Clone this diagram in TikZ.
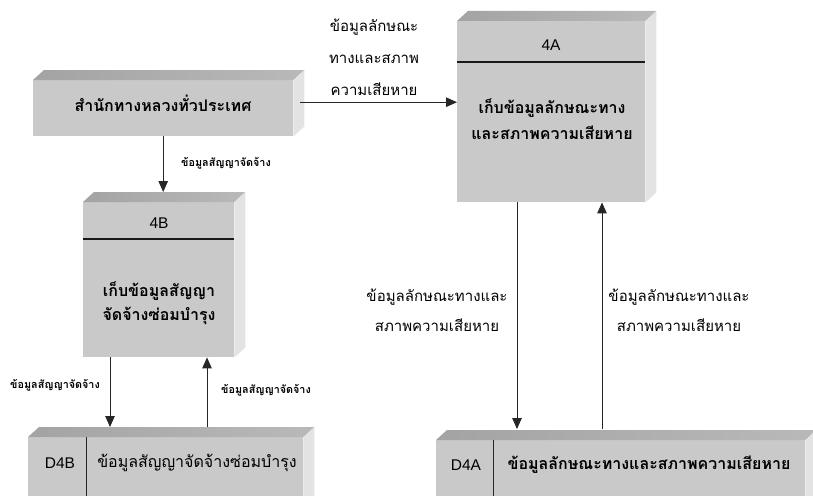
\documentclass[tikz,border=0pt]{standalone}
\usepackage{fontspec}
\setmainfont{Liberation Sans}
\newfontfamily\thai[Script=Thai]{Loma}
\usetikzlibrary{arrows.meta,calc}
\newcommand\prismfaces[1]{%
  \shade[left color=gray!72,right color=gray!55] (#1.north west) -- ++(11,-10) -- ($(#1.north east)+(11,-10)$) -- (#1.north east) -- cycle;
  \fill[gray!22] (#1.north east) -- ++(11,-10) -- ($(#1.south east)+(11,-10)$) -- (#1.south east) -- cycle;
}
\begin{document}
\begin{tikzpicture}[x=1pt,y=-1pt,
  front/.style={fill=gray!42,draw=none,inner sep=0pt,anchor=north west},
  btxt/.style={font=\thai\bfseries\fontsize{16}{26}\selectfont,align=center,inner sep=0pt},
  ltxt/.style={font=\thai\fontsize{15}{32}\selectfont,align=center,inner sep=0pt},
  stxt/.style={font=\thai\bfseries\fontsize{10.8}{12}\selectfont,inner sep=0pt},
  idtxt/.style={font=\fontsize{15.5}{18}\selectfont,inner sep=0pt},
  arr/.style={draw=black!85,line width=0.9pt,-{Triangle[length=11pt,width=9.5pt]}},
  divl/.style={draw=black!90,line width=1.3pt}]
\useasboundingbox (0,0) rectangle (813,495);
\fill[white] (0,0) rectangle (813,495);

% process / entity boxes (front faces)
\node[front,minimum width=260pt,minimum height=56pt] (box1) at (33,80) {};
\node[front,minimum width=188pt,minimum height=181pt] (b4A) at (457,21) {};
\node[front,minimum width=151pt,minimum height=155pt] (b4B) at (83,202) {};
\node[front,minimum width=275pt,minimum height=70pt] (d4B) at (28,437) {};
\node[front,minimum width=369pt,minimum height=70pt] (d4A) at (436,440) {};
\prismfaces{box1}
\prismfaces{b4A}
\prismfaces{b4B}
\prismfaces{d4B}
\prismfaces{d4A}

% dividers
\draw[divl] (b4A.west |- 0,62) -- (b4A.east |- 0,62);
\draw[divl] (b4B.west |- 0,239) -- (b4B.east |- 0,239);
\draw[draw=black!85,line width=0.9pt] ([xshift=58pt]d4B.north west) -- ([xshift=58pt]d4B.south west);
\draw[draw=black!85,line width=0.9pt] ([xshift=57pt]d4A.north west) -- ([xshift=57pt]d4A.south west);

% texts in boxes
\node[btxt,font=\thai\bfseries\fontsize{16}{20}\selectfont] (t1) at (163,103) {สำนักทางหลวงทั่วประเทศ};
\node[idtxt] (id4A) at (551,45) {4A};
\node[btxt] (t4A) at (552,119) {เก็บข้อมูลลักษณะทาง\\และสภาพความเสียหาย};
\node[idtxt] (id4B) at (159,223) {4B};
\node[btxt,font=\thai\bfseries\fontsize{16}{24}\selectfont] (t4B) at (159,303) {เก็บข้อมูลสัญญา\\จัดจ้างซ่อมบำรุง};
\node[idtxt] (idD4B) at (60,463) {D4B};
\node[ltxt,font=\thai\fontsize{16}{20}\selectfont] (tD4B) at (197,463) {ข้อมูลสัญญาจัดจ้างซ่อมบำรุง};
\node[idtxt] (idD4A) at (466,465) {D4A};
\node[btxt] (tD4A) at (649,465) {ข้อมูลลักษณะทางและสภาพความเสียหาย};

% connector anchor points
\coordinate (s1) at ([xshift=7pt,yshift=6pt]box1.east);
\coordinate (top4B) at ([yshift=10pt]b4B.north);
\coordinate (dnB) at ([xshift=27pt]b4B.south west);
\coordinate (upB) at ([xshift=124pt]b4B.south west);
\coordinate (topD4B) at ([yshift=10pt]d4B.north);
\coordinate (dnA) at ([xshift=60pt]b4A.south west);
\coordinate (upA) at ([xshift=145pt]b4A.south west);
\coordinate (topD4A) at ([yshift=11pt]d4A.north);

% connectors
\draw[arr] (s1) -- (s1 -| b4A.west);
\draw[arr] (box1.south) -- (top4B -| box1.south);
\draw[arr] (dnB) -- (dnB |- topD4B);
\draw[arr] (upB |- topD4B) -- (upB);
\draw[arr] (dnA) -- (dnA |- topD4A);
\draw[arr] (upA |- topD4A) -- (upA);

% connector labels
\node[ltxt] (l1) at (374,57) {ข้อมูลลักษณะ\\ทางและสภาพ\\ความเสียหาย};
\node[stxt] (l2) at (226,163) {ข้อมูลสัญญาจัดจ้าง};
\node[stxt] (l3) at (55,385) {ข้อมูลสัญญาจัดจ้าง};
\node[stxt] (l4) at (266,390) {ข้อมูลสัญญาจัดจ้าง};
\node[ltxt,font=\thai\fontsize{15}{30}\selectfont] (l5) at (437,310) {ข้อมูลลักษณะทางและ\\สภาพความเสียหาย};
\node[ltxt,font=\thai\fontsize{15}{30}\selectfont] (l6) at (679,310) {ข้อมูลลักษณะทางและ\\สภาพความเสียหาย};
\end{tikzpicture}
\end{document}
